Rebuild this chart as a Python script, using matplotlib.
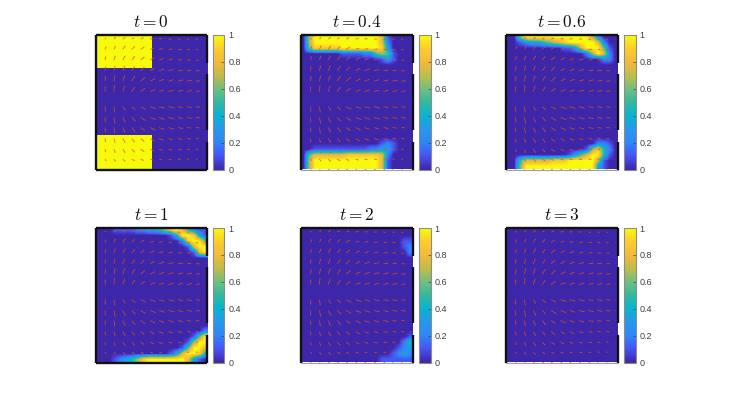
import numpy as np
import matplotlib
matplotlib.use("Agg")
import matplotlib.pyplot as plt
from matplotlib.colors import LinearSegmentedColormap

plt.rcParams["mathtext.fontset"] = "cm"
plt.rcParams["font.family"] = ["Liberation Sans", "DejaVu Sans"]

W, H = 732, 407

titles = ["0", "0.4", "0.6", "1", "2", "3"]
cbar_ticks = [0, 0.2, 0.4, 0.6, 0.8, 1]
cbar_labels = ["0", "0.2", "0.4", "0.6", "0.8", "1"]

# concentration, 0-9 means 0-1, 20 columns, top row first
B = "00000 00000 00000 00000"
Y0 = "99999 99999 00000 00000"

c_t0 = [Y0] * 6 + [B] * 12 + [Y0] * 6

c_t04 = [
    "06999 99999 99997 10000",
    "06999 99999 99997 20000",
    "05888 88999 99998 30000",
    "00000 00111 12256 51000",
    "00000 00000 00001 31000",
] + [B] * 14 + [
    "00000 00000 00001 21000",
    "00111 11111 11223 31000",
    "05777 77788 88887 20000",
    "06999 99999 99997 10000",
    "06999 99999 99997 10000",
]

c_t06 = [
    "00599 99999 99999 62000",
    "00123 34567 89999 97200",
    "00000 00000 11379 99510",
    "00000 00000 00002 69720",
    "00000 00000 00000 00220",
] + [B] * 14 + [
    "00000 00000 00000 02210",
    "00000 00000 00001 68420",
    "00000 00000 01357 99410",
    "00477 77788 89999 96100",
    "00599 99999 99999 93100",
]

c_t1 = [
    "00011 11223 34689 74211",
    "00000 00000 00014 99831",
    "00000 00000 00000 28995",
    "00000 00000 00000 01799",
    "00000 00000 00000 00179",
] + [B] * 13 + [
    "00000 00000 00000 00002",
    "00000 00000 00000 00159",
    "00000 00000 00000 01699",
    "00000 00000 00000 15997",
    "00000 00000 00013 79984",
    "00012 34689 99999 97310",
]

c_t2 = [B, B,
    "00000 00000 00000 00011",
    "00000 00000 00000 00012",
    "00000 00000 00000 00002",
] + [B] * 14 + [
    "00000 00000 00000 00001",
    "00000 00000 00000 00024",
    "00000 00000 00000 00123",
    "00000 00000 00000 01232",
    "00000 00000 00001 11111",
]

c_t3 = [B] * 24

panels = [c_t0, c_t04, c_t06, c_t1, c_t2, c_t3]

# velocity arrows, lengths in pixels, 13 columns by 13 rows, top row first
arrow_x = [0.01, 0.085, 0.165, 0.245, 0.325, 0.405, 0.49, 0.57, 0.655, 0.74, 0.82, 0.90, 0.985]
arrow_y = [0.97, 0.893, 0.814, 0.734, 0.657, 0.58, 0.467, 0.387, 0.312, 0.23, 0.151, 0.077, 0.0]

U = [
    [.5, 1, 1.5, 2, 2, 2.5, 2.5, 2.5, 2.5, 2, 2, 1.5, .5],
    [.5, 1, 1.5, 2, 2.5, 3, 3, 3, 3, 3, 2.5, 2, .5],
    [.5, .7, 1.2, 2, 2.5, 3, 3.5, 3.5, 3.5, 3.5, 3, 2.5, .5],
    [.5, .5, 1, 1.5, 2.5, 3, 3.5, 4, 4, 4, 3.5, 3, .5],
    [.3, .5, 1, 1.5, 2.5, 3.5, 4, 4, 4, 4, 4, 3.5, .5],
    [.3, .3, .5, 1.5, 2.5, 3.5, 4, 4, 4, 4, 4, 3.5, .5],
    [.3, .3, .7, 2, 3, 4, 4.5, 4.5, 4.5, 4, 4, 3.5, .5],
    [.3, .3, 1, 2, 3, 4, 4.5, 4.5, 4.5, 4, 4, 3.5, .5],
    [.3, .3, .8, 1.8, 2.8, 3.5, 4, 4, 4, 4, 3.5, 3, .5],
    [.3, .5, 1, 2, 2.5, 3, 3.5, 3.5, 3.5, 3.5, 3, 2.5, .5],
    [.3, .7, 1.2, 2, 2.5, 3, 3, 3, 3, 3, 2.5, 2, .5],
    [.5, 1, 1.5, 2, 2.5, 2.5, 2.5, 2.5, 2.5, 2.5, 2, 1.5, .5],
    [.5, 1, 1, 1.5, 1.5, 1.5, 1.5, 1.5, 1.5, 1.5, 1, 1, .5],
]
V = [
    [0, 1, 1.5, 1.5, 1, 1, .5, .3, 0, -.3, -.3, -.5, 0],
    [0, 2.5, 3, 3, 2.5, 2, 1, .7, .3, 0, -.3, -.5, 0],
    [0, 3, 3.5, 3.5, 3, 2.5, 2, 1.2, .8, .3, 0, -.3, 0],
    [0, 3.5, 4, 4, 3.5, 3, 2, 1.5, 1, .5, .3, 0, 0],
    [0, 4, 4.5, 4.5, 4, 3, 2, 1.5, 1.2, 1, .7, .3, 0],
    [0, 4, 5, 4.5, 3.5, 2.5, 1.5, 1.2, 1, 1, .8, .5, 0],
    [0, -4, -4.5, -3, -2.5, -2, -1.5, -1.2, -1, -.8, -.7, -.5, 0],
    [0, -4, -5, -4, -3, -2.5, -1.8, -1.5, -1.2, -1, -.7, -.5, 0],
    [0, -3.5, -4.5, -4, -3.5, -2.5, -2, -1.5, -1.2, -.8, -.5, -.3, 0],
    [0, -3, -3.5, -3.5, -3, -2.5, -2, -1.5, -1, -.6, -.3, -.2, 0],
    [0, -2.5, -3, -3, -2.5, -2, -1.5, -1, -.7, -.4, -.2, 0, 0],
    [0, -1.5, -2, -2, -1.5, -1.2, -.8, -.6, -.4, -.2, 0, 0, 0],
    [0, -.2, -.2, -.2, -.2, 0, 0, 0, 0, 0, 0, 0, 0],
]

parula = LinearSegmentedColormap.from_list("parula", [
    (0.2422, 0.1504, 0.6603), (0.2810, 0.3228, 0.9579), (0.1786, 0.5289, 0.9682),
    (0.1540, 0.5902, 0.9218), (0.0297, 0.7082, 0.8163), (0.1986, 0.7214, 0.6310),
    (0.4420, 0.7481, 0.5033), (0.7500, 0.7380, 0.2800), (0.9500, 0.7300, 0.2300),
    (0.9856, 0.8000, 0.1800), (0.9763, 0.9831, 0.0538),
])

col_x = [95.5, 301, 506]
col_w = 111.5
row_y = [35, 228]
row_h = 134.5
cbar_x = [213, 419, 624]
cbar_w = 11.5
bottom_black = [True, False, False, True, False, False]


def pos(x, y, w, h):
    return [x / W, 1 - (y + h) / H, w / W, h / H]


def decode(rows):
    return np.array([[int(ch) for ch in r.replace(" ", "")] for r in rows]) / 9.0


fig = plt.figure(figsize=(W / 100, H / 100), dpi=100)

for i in range(6):
    r, c = i // 3, i % 3
    ax = fig.add_axes(pos(col_x[c], row_y[r], col_w, row_h))
    im = ax.imshow(decode(panels[i]), cmap=parula, vmin=0, vmax=1, aspect="auto",
                   extent=[0, 1, 0, 1], origin="upper",
                   interpolation="nearest" if i == 0 else "bilinear")
    ax.quiver(arrow_x, arrow_y, U, V, angles="uv", scale=0.75, scale_units="dots",
              units="dots", width=0.8, headwidth=1.8, headlength=2, headaxislength=2,
              color="#d9541a", alpha=0.85, clip_on=False, zorder=3)
    ax.set_xlim(0, 1)
    ax.set_ylim(0, 1)
    ax.set_xticks([])
    ax.set_yticks([])
    for s in ax.spines.values():
        s.set_visible(False)

    # walls, the right one has two openings
    wall = dict(color="#111111", lw=1.7, solid_capstyle="butt", clip_on=False, zorder=4)
    ax.plot([0, 0], [0, 1], **wall)
    ax.plot([0, 1], [1, 1], **wall)
    ax.plot([1, 1], [0, 0.206], **wall)
    ax.plot([1, 1], [0.293, 0.71], **wall)
    ax.plot([1, 1], [0.79, 1], **wall)
    if bottom_black[i]:
        ax.plot([0, 1], [0, 0], **wall)
    else:
        ax.plot([0, 1], [0, 0], color="#a0a0a0", lw=0.8, clip_on=False, zorder=4)
    ax.set_title(r"$t=%s$" % titles[i], fontsize=12.5, pad=6, color="#111111")

    cax = fig.add_axes(pos(cbar_x[c], row_y[r], cbar_w, row_h))
    cb = fig.colorbar(im, cax=cax, ticks=cbar_ticks)
    cb.ax.set_yticklabels(cbar_labels)
    cb.ax.tick_params(direction="in", length=2, width=0.5, labelsize=6.5,
                      colors="#404040", pad=3)
    cb.outline.set_edgecolor("#8c8c8c")
    cb.outline.set_linewidth(0.8)

fig.savefig("out.png", dpi=100)
